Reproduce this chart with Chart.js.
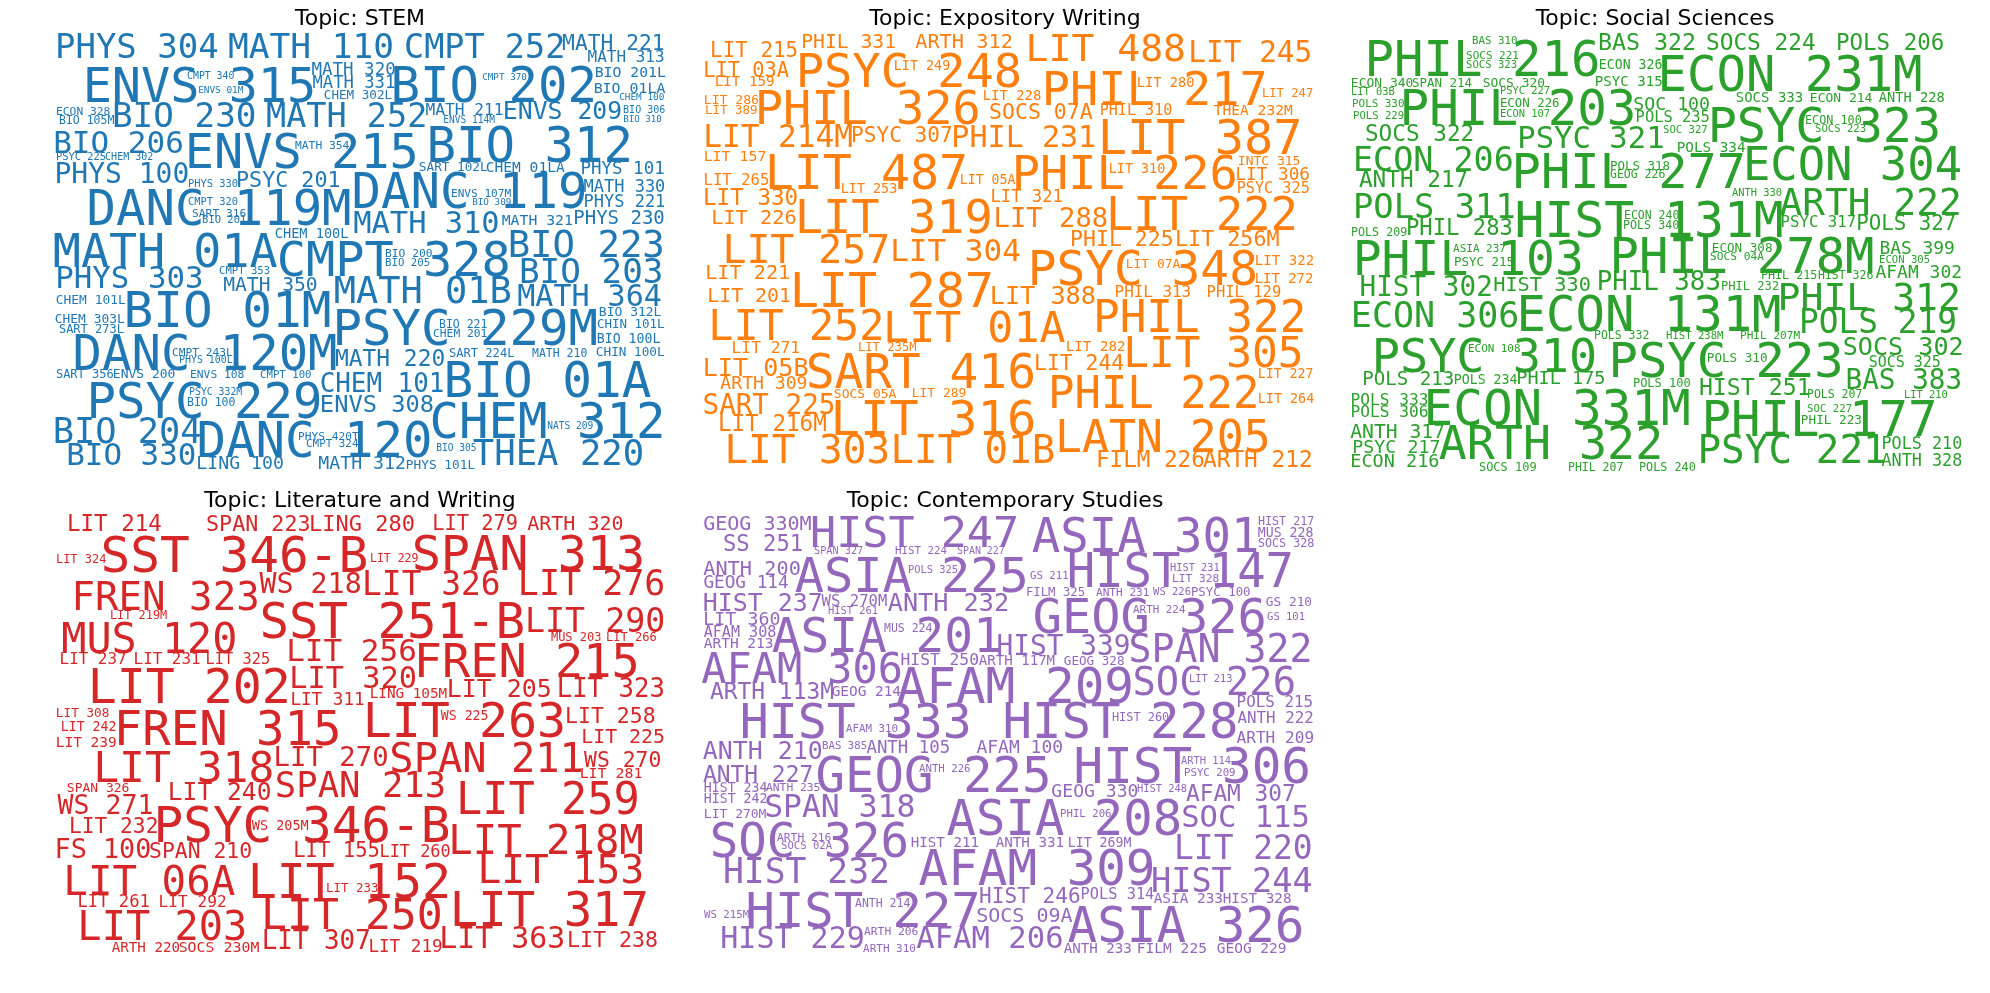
<!DOCTYPE html>
<html>
<head>
<meta charset="utf-8">
<script src="https://cdn.jsdelivr.net/npm/chart.js@4.4.1/dist/chart.umd.min.js"></script>
<style>
  html, body { margin: 0; padding: 0; background: #ffffff; }
  #fig { position: relative; width: 1990px; height: 993px; background: #ffffff; overflow: hidden; }
  #fig canvas { position: absolute; }
</style>
</head>
<body>
<div id="fig"></div>
<script>
// ---------------- DATA ----------------
// Each topic: course labels, their layout position in the cloud (x = left, y = baseline) and their weight (font size units)
const stemCourses = ["PHYS 304","MATH 110","CMPT 252","MATH 221","MATH 313","ENVS 315","CMPT 340","ENVS 01M","MATH 320","MATH 331",
  "CHEM 302L","BIO 202","CMPT 370","BIO 201L","BIO 01LA","CHEM 100","ECON 328","BIO 105M","BIO 230","MATH 252",
  "MATH 211","ENVS 114M","ENVS 209","BIO 306","BIO 310","BIO 206","PSYC 225","CHEM 302","ENVS 215","MATH 354",
  "BIO 312","PHYS 100","PHYS 330","PSYC 201","SART 102L","CHEM 01LA","PHYS 101","DANC 119","MATH 330","PHYS 221",
  "ENVS 107M","BIO 309","DANC 119M","CMPT 320","SART 316","BIO 201","MATH 310","MATH 321","PHYS 230","CHEM 100L",
  "MATH 01A","CMPT 328","BIO 200","BIO 205","BIO 223","BIO 203","PHYS 303","CMPT 353","MATH 350","MATH 01B",
  "MATH 364","CHEM 101L","BIO 01M","CHEM 303L","SART 273L","PSYC 229M","BIO 221","CHEM 201","BIO 312L","CHIN 101L",
  "BIO 100L","CHIN 100L","DANC 120M","CMPT 243L","PHYS 100L","MATH 220","SART 224L","MATH 210","SART 356","ENVS 200",
  "ENVS 108","CMPT 100","CHEM 101","BIO 01A","PSYC 229","PSYC 332M","BIO 100","ENVS 308","CHEM 312","BIO 204",
  "DANC 120","PHYS 420T","CMPT 324","NATS 209","BIO 305","THEA 220","BIO 330","LING 100","MATH 312","PHYS 101L"];
const stemX = [58,231,407,564,589,87,188,199,313,314, 325,395,483,596,595,620,57,60,115,269, 427,444,505,624,624,56,57,106,189,296,
  431,57,189,238,420,487,582,356,585,585, 452,473,91,189,193,203,356,503,575,276, 57,281,386,386,511,522,58,220,225,337,
  520,57,128,56,60,337,440,434,600,598, 598,597,77,173,180,337,450,533,57,114, 191,261,322,448,91,190,188,322,434,56,
  201,299,307,548,437,476,69,198,320,407];
const stemY = [58,58,58,50,62,102,79,93,75,88, 99,102,80,77,93,100,115,124,127,127, 115,123,119,113,122,153,160,160,168,149,
  162,183,187,187,171,172,174,208,192,207, 197,205,225,205,217,223,233,225,224,238, 267,276,257,266,257,283,288,274,291,303,
  306,304,327,323,333,345,328,337,316,328, 343,356,370,356,363,366,357,357,378,378, 378,378,392,397,418,395,406,412,438,443,
  457,440,447,429,451,465,465,469,469,469];
const stemWeight = [34,34.5,33.5,21.3,16,48.5,9.8,9.4,17.5,17.2, 12.6,49,9.3,14.8,14.9,9.4,11.3,11.5,34.3,33.5,
  16.2,9.6,24.8,10,9.2,31,10.4,10,48.6,11.3, 49,28,10.4,21.7,12.7,14.6,17.5,49,17,17,
  11.1,9.3,48.9,10.4,11.3,10.5,30.4,14.8,19,13.6, 46.7,48.6,11.3,10.7,37.3,34.3,30.8,10.6,19.6,37,
  30,12.9,49.3,12.9,12,49,11.5,11.3,13,12.5, 13.2,12.7,48.9,11.2,9.9,22.9,12.1,11.5,12,13,
  11.3,10.7,25.9,49.3,49,9.8,11.5,23.7,49,35.3, 49,11.2,10.9,9.6,9.6,35.6,30.9,18.2,18.2,12.8];

const expoCourses = ["LIT 215","PHIL 331","ARTH 312","LIT 488","LIT 245","PSYC 248","LIT 249","LIT 03A","LIT 159","PHIL 217",
  "LIT 280","LIT 247","LIT 286","LIT 389","PHIL 326","LIT 228","SOCS 07A","PHIL 310","THEA 232M","LIT 214M",
  "PSYC 307","PHIL 231","LIT 387","LIT 157","LIT 487","PHIL 226","INTC 315","LIT 310","LIT 306","PSYC 325",
  "LIT 265","LIT 253","LIT 05A","LIT 330","LIT 321","LIT 226","LIT 319","LIT 288","LIT 222","PHIL 225",
  "LIT 256M","LIT 257","LIT 304","PSYC 348","LIT 07A","LIT 322","LIT 272","LIT 221","LIT 201","LIT 287",
  "LIT 388","PHIL 313","PHIL 129","LIT 252","LIT 01A","PHIL 322","LIT 271","LIT 235M","LIT 282","LIT 305",
  "LIT 05B","SART 416","LIT 244","ARTH 309","LIT 227","PHIL 222","SOCS 05A","LIT 289","LIT 264","SART 225",
  "LIT 216M","LIT 316","LATN 205","LIT 303","LIT 01B","FILM 226","ARTH 212"];
const expoX = [712,803,917,1029,1191,800,895,705,716,1046, 1138,1263,705,706,759,984,991,1101,1215,706,
  853,954,1102,705,769,1016,1239,1110,1237,1238, 705,842,961,705,992,713,799,996,1110,1072,
  1177,726,893,1032,1127,1256,1256,707,709,794, 992,1116,1208,712,887,1097,733,859,1067,1127,
  705,810,1036,722,1259,1052,835,913,1259,705, 720,835,1059,728,894,1098,1205];
const expoY = [57,48,48,61,62,87,70,77,86,105, 87,97,104,114,124,100,119,115,115,147,
  142,147,154,161,189,189,165,173,180,193, 185,193,184,205,202,224,233,227,230,246,
  246,263,261,285,268,265,283,279,302,307, 304,297,297,340,342,332,353,351,351,367,
  376,388,370,389,378,408,398,397,403,414, 431,435,452,463,463,467,467];
const expoWeight = [20.9,19.7,20.3,38.1,29.4,47,13.4,20.4,14.2,46.9, 13.7,12.2,13.1,12.5,46.9,13.9,21.5,15.1,14.6,31.1,
  21.1,30.1,48.6,14.9,48.3,46.9,13,13.4,17.7,15.2, 15.6,13.4,13.2,22.6,17.2,20.3,47,27.2,45.6,21.5,
  21.7,39.8,31,47.8,12.9,14.1,13.9,20.2,19.9,48.5, 25.2,15.9,15.5,41.8,43.3,44.3,16.3,12.2,14.2,42.8,
  25.1,47.8,21.4,18.1,13.2,43.9,13,12.9,13.4,27.6, 22.6,48.8,44.8,39.3,39.1,22.6,22.8];

const socCourses = ["BAS 310","PHIL 216","SOCS 221","SOCS 323","BAS 322","SOCS 224","POLS 206","ECON 326","ECON 231M","ECON 340",
  "SPAN 214","SOCS 320","PSYC 315","LIT 03B","PSYC 227","PHIL 203","POLS 330","POLS 229","ECON 226","ECON 107",
  "SOC 100","POLS 235","SOCS 333","ECON 214","ANTH 228","PSYC 323","ECON 100","SOCS 223","SOCS 322","PSYC 321",
  "SOC 327","POLS 334","ECON 206","PHIL 277","POLS 318","GEOG 226","ECON 304","ANTH 217","ANTH 330","POLS 311",
  "HIST 131M","ARTH 222","ECON 240","POLS 340","PSYC 317","POLS 327","POLS 209","PHIL 283","PHIL 103","ASIA 237",
  "PSYC 215","PHIL 278M","ECON 308","SOCS 04A","BAS 399","ECON 305","AFAM 302","PHIL 215","HIST 326","HIST 302",
  "HIST 330","PHIL 383","PHIL 232","PHIL 312","ECON 306","ECON 131M","POLS 219","POLS 332","HIST 238M","PHIL 207M",
  "PSYC 310","ECON 108","PSYC 223","POLS 310","SOCS 302","SOCS 325","POLS 213","POLS 234","PHIL 175","POLS 100",
  "HIST 251","BAS 383","POLS 207","LIT 210","POLS 333","POLS 306","ECON 331M","PHIL 177","SOC 227","PHIL 223",
  "ANTH 317","PSYC 217","ECON 216","ARTH 322","PSYC 221","POLS 210","ANTH 328","SOCS 109","PHIL 207","POLS 240"];
const socX = [1473,1369,1467,1467,1600,1708,1838,1600,1662,1352, 1413,1484,1596,1352,1501,1404,1353,1354,1501,1501,
  1635,1637,1737,1811,1880,1712,1806,1816,1367,1520, 1664,1678,1356,1516,1611,1611,1747,1361,1733,1356,
  1519,1783,1625,1624,1782,1858,1352,1408,1357,1454, 1455,1614,1713,1711,1881,1880,1877,1762,1819,1362,
  1495,1599,1722,1781,1354,1521,1802,1595,1667,1741, 1376,1469,1613,1708,1845,1870,1364,1455,1518,1634,
  1701,1848,1808,1905,1352,1352,1428,1706,1808,1802, 1352,1354,1352,1443,1701,1883,1883,1480,1569,1640];
const socY = [44,76,59,68,50,50,50,69,91,87, 87,87,86,95,94,125,107,119,107,117,
  110,122,102,102,102,142,124,132,141,148, 133,152,171,188,170,178,180,187,196,218,
  237,215,219,229,227,230,236,235,275,252, 266,273,252,260,254,263,278,279,279,296,
  291,290,290,310,327,331,333,339,339,339, 372,352,377,362,355,367,385,384,384,387,
  395,389,398,398,405,417,425,436,412,424, 438,453,467,459,463,449,466,471,471,471];
const socWeight = [10.8,49,11,10.6,23.3,22.8,22.5,13.2,48.9,13, 12.5,12.9,14.1,10.4,10.4,49.2,10.9,10.6,12.4,10.4,
  18.2,15.4,14,13,13.7,48.5,11.8,10.6,22.7,30.6, 10.6,14.3,33.4,48.7,12.5,11.5,45.5,22.7,10.4,33.8,
  49.7,37.8,11.5,11.7,15.7,20.8,11.7,22.2,48,11, 12.5,48.9,12.6,11.2,17.9,10.6,18,11.7,11.5,27.7,
  20.3,25.8,12.1,38.1,35,48.9,32.8,11.5,10.6,11.1, 46.8,10.9,48.8,12.6,25.1,15,19.1,13.2,18.5,12,
  23.2,27.7,11.5,10.4,16.2,16.2,49.3,49,10.7,12.7, 19.7,18.3,18.5,46.6,39.3,16.8,16.8,12,11.5,11.8];

const litCourses = ["LIT 214","SPAN 223","LING 280","LIT 279","ARTH 320","LIT 324","SST 346-B","LIT 229","SPAN 313","FREN 323",
  "WS 218","LIT 326","LIT 276","LIT 219M","SST 251-B","LIT 290","MUS 120","MUS 203","LIT 266","LIT 237",
  "LIT 231","LIT 325","LIT 256","FREN 215","LIT 202","LIT 320","LIT 311","LING 105M","LIT 205","LIT 323",
  "LIT 308","FREN 315","LIT 263","WS 225","LIT 258","LIT 242","LIT 239","LIT 225","LIT 318","LIT 270",
  "SPAN 211","WS 270","LIT 281","SPAN 326","LIT 240","SPAN 213","LIT 259","WS 271","LIT 232","PSYC 346-B",
  "WS 205M","LIT 218M","FS 100","SPAN 210","LIT 155","LIT 260","LIT 153","LIT 06A","LIT 152","LIT 233",
  "LIT 317","LIT 261","LIT 292","LIT 203","LIT 250","ARTH 220","SOCS 230M","LIT 307","LIT 219","LIT 363","LIT 238"];
const litX = [69,208,311,434,529,57,105,371,416,75, 262,365,521,111,264,528,65,552,607,61,
  135,207,289,418,92,292,292,371,449,559, 57,118,367,442,567,62,57,583,97,276,
  393,586,581,68,170,278,460,60,71,158, 253,452,57,151,295,381,481,67,252,327,
  454,79,160,81,265,113,180,264,370,442,569];
const litY = [531,531,531,530,530,563,572,562,570,610, 593,595,595,619,638,632,653,641,641,664,
  664,664,661,677,703,688,705,698,697,697, 717,745,737,720,723,731,747,743,782,766,
  772,767,778,792,800,797,814,814,833,842, 830,854,858,858,857,857,883,895,898,892,
  926,907,907,940,929,952,952,949,952,948,947];
const litWeight = [22.5,21.7,22,20.4,20,12,49.4,11.5,48.5,39.1, 28.3,32.9,35,11.9,49,33.3,41.8,12,12.1,15.9,
  15.9,15.3,31,46.9,48.2,30.3,17.6,14.3,24.9,25.7, 12.7,47.3,48.3,13.2,21.5,13.2,14.5,19.9,43,27.3,
  40.4,21.4,14.9,13,24.6,35.6,43.6,26.5,21.2,49.3, 13.5,40.6,26.8,21.4,20.6,16.9,39.6,40.8,48.3,12.5,
  47.3,17.2,16.2,40.3,43.1,14.2,14.9,25.9,17.6,29.9,21.6];

const contCourses = ["GEOG 330M","SS 251","HIST 247","ASIA 301","HIST 217","MUS 228","SOCS 328","SPAN 327","HIST 224","SPAN 227",
  "ANTH 200","GEOG 114","ASIA 225","POLS 325","HIST 147","GS 211","HIST 231","LIT 328","FILM 325","ANTH 231",
  "WS 226","PSYC 100","HIST 237","WS 270M","HIST 261","ANTH 232","GEOG 326","ARTH 224","GS 210","GS 101",
  "LIT 360","AFAM 308","ARTH 213","ASIA 201","MUS 224","HIST 339","SPAN 322","AFAM 306","HIST 250","ARTH 117M",
  "GEOG 328","AFAM 209","SOC 226","LIT 213","ARTH 113M","GEOG 214","POLS 215","ANTH 222","HIST 333","HIST 228",
  "HIST 260","AFAM 310","ARTH 209","ANTH 210","BAS 385","ANTH 105","AFAM 100","HIST 306","ARTH 114","PSYC 209",
  "ANTH 227","GEOG 225","ANTH 226","HIST 234","ANTH 235","GEOG 330","HIST 248","AFAM 307","HIST 242","SPAN 318",
  "LIT 270M","ASIA 208","PHIL 206","SOC 115","SOC 326","ARTH 216","SOCS 02A","HIST 211","ANTH 331","LIT 269M",
  "LIT 220","HIST 232","AFAM 309","HIST 244","HIST 227","ANTH 214","HIST 246","POLS 314","ASIA 233","HIST 328",
  "SOCS 09A","ASIA 326","WS 215M","HIST 229","ARTH 206","ARTH 310","AFAM 206","ANTH 233","FILM 225","GEOG 229"];
const contX = [705,725,814,1036,1259,1259,1259,815,896,958, 705,705,799,909,1071,1031,1171,1173,1027,1097,
  1154,1192,705,823,829,890,1037,1134,1267,1268, 705,705,705,776,885,999,1132,705,902,980,
  1065,901,1136,1190,712,833,1238,1239,744,1007, 1113,847,1238,705,823,868,978,1078,1182,1185,
  705,820,920,705,767,1053,1138,1188,705,767, 705,951,1061,1184,714,778,782,912,997,1069,
  1177,726,923,1154,750,856,981,1082,1155,1224, 978,1072,705,723,865,864,919,1065,1138,1218];
const contY = [530,551,547,552,525,537,547,554,554,554, 575,588,592,573,587,579,571,582,596,596,
  595,596,611,606,614,611,633,613,606,620, 625,637,648,652,632,655,662,683,665,665,
  665,703,695,682,699,696,707,723,738,738, 721,732,743,759,749,753,753,783,764,776,
  782,792,772,792,791,797,792,801,803,817, 818,835,817,827,857,841,849,847,847,847,
  859,883,885,892,927,907,903,899,903,903, 922,942,918,948,935,952,948,953,953,953];
const contWeight = [20,22.2,43.4,47.3,11.7,13.2,11.7,10.2,10.8,9.9, 20.3,17.7,48.6,10.4,47.2,10.7,10.3,11.2,12.3,11.1,
  10.5,12.4,24.9,15.6,10.4,25.2,48.6,10.9,12.8,10.5, 18.3,15.1,14.5,47.8,11.5,27.8,38.2,41.9,16.3,14.1,
  12.6,49.3,38.8,10.3,22.9,14.4,15.9,15.8,48.2,49, 11.9,10.8,16.1,24.9,10.7,17.4,18,49.3,10.4,10.7,
  22.9,49,10.7,13.2,11.3,18.1,10.4,22.8,13.2,31.4, 13,48.9,10.7,30.5,47.3,11.3,10.6,14.2,14.2,13.2,
  32.9,34.7,49.2,33.6,48.8,11.5,21.1,15.3,14.4,14.3, 20,49.2,10.7,30,11.3,11,30.6,14.1,14.6,14.5];

const topicTitles = ["Topic: STEM", "Topic: Expository Writing", "Topic: Social Sciences",
                     "Topic: Literature and Writing", "Topic: Contemporary Studies"];

// ---------------- LAYOUT / STYLE ----------------
const TITLE_PAD_TOP = 6, TITLE_SIZE = 22, TITLE_BLOCK = 6 + TITLE_SIZE * 1.2;
const panels = [
  {words: stemCourses, x: stemX, y: stemY, w: stemWeight, color: '#1f77b4', left: 40,   top: 0,   width: 640, height: 480},
  {words: expoCourses, x: expoX, y: expoY, w: expoWeight, color: '#ff7f0e', left: 685,  top: 0,   width: 640, height: 480},
  {words: socCourses,  x: socX,  y: socY,  w: socWeight,  color: '#2ca02c', left: 1330, top: 0,   width: 650, height: 480},
  {words: litCourses,  x: litX,  y: litY,  w: litWeight,  color: '#d62728', left: 40,   top: 482, width: 640, height: 511},
  {words: contCourses, x: contX, y: contY, w: contWeight, color: '#9467bd', left: 685,  top: 482, width: 640, height: 511}
];

const wordPlugin = {
  id: 'wordcloud',
  afterDatasetsDraw(chart) {
    const ds = chart.data.datasets[0];
    const meta = chart.getDatasetMeta(0);
    const xs = chart.scales.x;
    const k = Math.abs(xs.getPixelForValue(1) - xs.getPixelForValue(0));
    const ctx = chart.ctx;
    ctx.save();
    ctx.fillStyle = ds.wordColor;
    ctx.textAlign = 'left';
    ctx.textBaseline = 'alphabetic';
    meta.data.forEach((el, i) => {
      const fs = ds.weights[i] * k;
      ctx.font = fs.toFixed(2) + 'px "DejaVu Sans Mono", monospace';
      ctx.fillText(ds.labels[i], el.x - 0.09 * fs, el.y);
    });
    ctx.restore();
  }
};

const fig = document.getElementById('fig');
panels.forEach((p, idx) => {
  const cv = document.createElement('canvas');
  cv.width = p.width; cv.height = p.height;
  cv.style.left = p.left + 'px'; cv.style.top = p.top + 'px';
  cv.style.width = p.width + 'px'; cv.style.height = p.height + 'px';
  fig.appendChild(cv);
  new Chart(cv, {
    type: 'scatter',
    data: {
      datasets: [{
        data: p.words.map((t, i) => ({x: p.x[i], y: p.y[i]})),
        labels: p.words,
        weights: p.w,
        wordColor: p.color,
        pointRadius: 0,
        pointHoverRadius: 0,
        showLine: false
      }]
    },
    options: {
      responsive: false,
      animation: false,
      devicePixelRatio: 1,
      layout: {padding: 0},
      events: [],
      plugins: {
        legend: {display: false},
        tooltip: {enabled: false},
        title: {
          display: true,
          text: topicTitles[idx],
          color: '#000000',
          font: {family: '"DejaVu Sans", sans-serif', size: TITLE_SIZE, weight: 'normal', lineHeight: 1.2},
          padding: {top: TITLE_PAD_TOP, bottom: 0}
        }
      },
      scales: {
        x: {type: 'linear', display: false, min: p.left, max: p.left + p.width},
        y: {type: 'linear', display: false, reverse: true, min: p.top + TITLE_BLOCK, max: p.top + p.height}
      }
    },
    plugins: [wordPlugin]
  });
});
</script>
</body>
</html>
